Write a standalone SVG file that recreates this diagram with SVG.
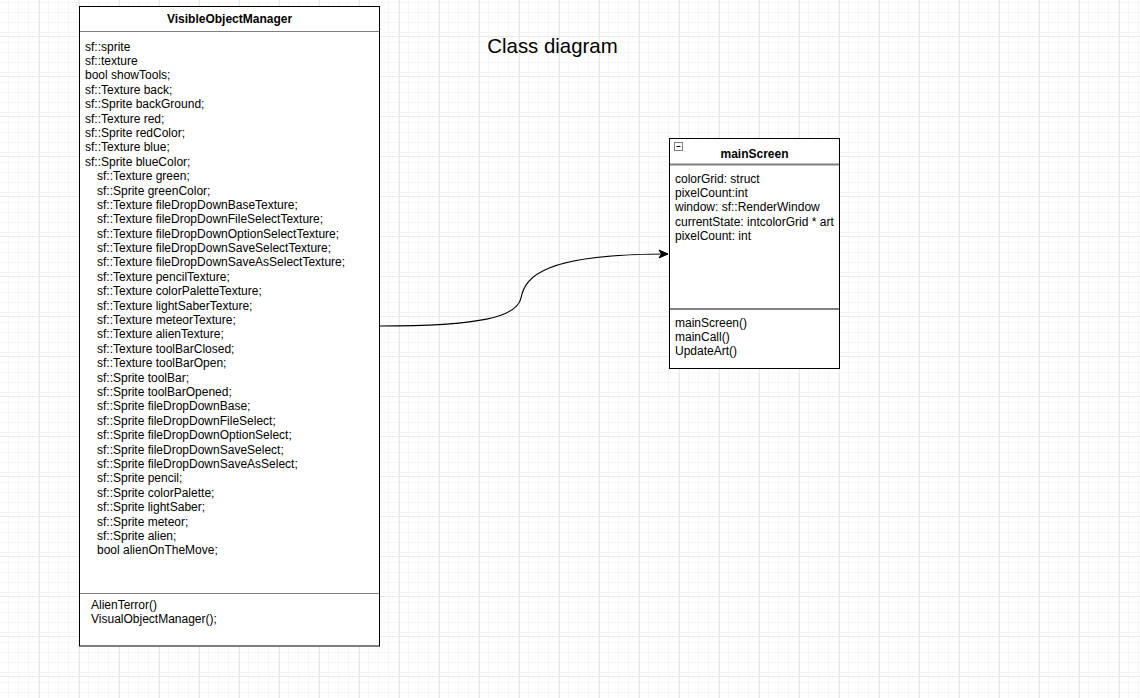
<svg xmlns="http://www.w3.org/2000/svg" width="1140" height="698" viewBox="0 0 1140 698">
<defs>
<pattern id="minor" width="10" height="10" patternUnits="userSpaceOnUse" x="9" y="6">
<path d="M 0.5 0 V 10 M 0 0.5 H 10" fill="none" stroke="#f6f6f6" stroke-width="1"/>
</pattern>
<pattern id="major" width="40" height="40" patternUnits="userSpaceOnUse" x="39" y="36">
<rect width="40" height="40" fill="url(#minor)"/>
<path d="M 0.5 0 V 40 M 0 0.5 H 40" fill="none" stroke="#e8e8e8" stroke-width="1"/>
</pattern>
<marker id="arrow" markerWidth="12" markerHeight="12" refX="10" refY="6" orient="auto" markerUnits="userSpaceOnUse">
<path d="M 1 2 L 10 6 L 1 10 L 3.5 6 Z" fill="#000" stroke="#000" stroke-width="1"/>
</marker>
<style>
.t{font-family:"Liberation Sans",Arial,sans-serif;font-size:12px;fill:#000}
.b{font-weight:bold}
.box{fill:#fff;stroke:#000;stroke-width:1}
.sep{stroke:#808080;stroke-width:1}
.sep2{stroke:#808080;stroke-width:2}
</style>
</defs>
<rect width="1140" height="698" fill="#fff"/>
<rect width="1140" height="698" fill="url(#major)"/>
<text class="t" x="552.5" y="53" text-anchor="middle" style="font-size:20.4px">Class diagram</text>
<g id="connectors">
<path d="M 380 326 C 480 326 517 317 521 298 C 525 276 545 254 668 254" fill="none" stroke="#000" stroke-width="1.2" marker-end="url(#arrow)"/>
</g>
<g id="VisibleObjectManager">
<rect class="box" x="79.5" y="6.5" width="300" height="639.5"/>
<line class="sep" x1="80" y1="31.5" x2="379" y2="31.5"/>
<line class="sep" x1="80" y1="593.5" x2="379" y2="593.5"/>
<text class="t b" x="229.5" y="22.5" text-anchor="middle">VisibleObjectManager</text>
<text class="t" x="85" y="50.5">
<tspan x="85">sf::sprite</tspan>
<tspan x="85" dy="14.4">sf::texture</tspan>
<tspan x="85" dy="14.4">bool showTools;</tspan>
<tspan x="85" dy="14.4">sf::Texture back;</tspan>
<tspan x="85" dy="14.4">sf::Sprite backGround;</tspan>
<tspan x="85" dy="14.4">sf::Texture red;</tspan>
<tspan x="85" dy="14.4">sf::Sprite redColor;</tspan>
<tspan x="85" dy="14.4">sf::Texture blue;</tspan>
<tspan x="85" dy="14.4">sf::Sprite blueColor;</tspan>
<tspan x="97" dy="14.4">sf::Texture green;</tspan>
<tspan x="97" dy="14.4">sf::Sprite greenColor;</tspan>
<tspan x="97" dy="14.4">sf::Texture fileDropDownBaseTexture;</tspan>
<tspan x="97" dy="14.4">sf::Texture fileDropDownFileSelectTexture;</tspan>
<tspan x="97" dy="14.4">sf::Texture fileDropDownOptionSelectTexture;</tspan>
<tspan x="97" dy="14.4">sf::Texture fileDropDownSaveSelectTexture;</tspan>
<tspan x="97" dy="14.4">sf::Texture fileDropDownSaveAsSelectTexture;</tspan>
<tspan x="97" dy="14.4">sf::Texture pencilTexture;</tspan>
<tspan x="97" dy="14.4">sf::Texture colorPaletteTexture;</tspan>
<tspan x="97" dy="14.4">sf::Texture lightSaberTexture;</tspan>
<tspan x="97" dy="14.4">sf::Texture meteorTexture;</tspan>
<tspan x="97" dy="14.4">sf::Texture alienTexture;</tspan>
<tspan x="97" dy="14.4">sf::Texture toolBarClosed;</tspan>
<tspan x="97" dy="14.4">sf::Texture toolBarOpen;</tspan>
<tspan x="97" dy="14.4">sf::Sprite toolBar;</tspan>
<tspan x="97" dy="14.4">sf::Sprite toolBarOpened;</tspan>
<tspan x="97" dy="14.4">sf::Sprite fileDropDownBase;</tspan>
<tspan x="97" dy="14.4">sf::Sprite fileDropDownFileSelect;</tspan>
<tspan x="97" dy="14.4">sf::Sprite fileDropDownOptionSelect;</tspan>
<tspan x="97" dy="14.4">sf::Sprite fileDropDownSaveSelect;</tspan>
<tspan x="97" dy="14.4">sf::Sprite fileDropDownSaveAsSelect;</tspan>
<tspan x="97" dy="14.4">sf::Sprite pencil;</tspan>
<tspan x="97" dy="14.4">sf::Sprite colorPalette;</tspan>
<tspan x="97" dy="14.4">sf::Sprite lightSaber;</tspan>
<tspan x="97" dy="14.4">sf::Sprite meteor;</tspan>
<tspan x="97" dy="14.4">sf::Sprite alien;</tspan>
<tspan x="97" dy="14.4">bool alienOnTheMove;</tspan>
</text>
<text class="t" x="91" y="608.5">
<tspan x="91">AlienTerror()</tspan>
<tspan x="91" dy="14.4">VisualObjectManager();</tspan>
</text>
</g>
<g id="mainScreen">
<rect class="box" x="669.5" y="138.5" width="170" height="230"/>
<line class="sep2" x1="670" y1="164.5" x2="839" y2="164.5"/>
<line class="sep2" x1="670" y1="309" x2="839" y2="309"/>
<rect x="674.5" y="142.5" width="8" height="8" fill="#fff" stroke="#808080" stroke-width="1"/>
<line x1="676.5" y1="146.5" x2="680.5" y2="146.5" stroke="#000" stroke-width="1"/>
<text class="t b" x="754.5" y="157.5" text-anchor="middle">mainScreen</text>
<text class="t" x="675" y="183">
<tspan x="675">colorGrid: struct</tspan>
<tspan x="675" dy="14.2">pixelCount:int</tspan>
<tspan x="675" dy="14.2">window: sf::RenderWindow</tspan>
<tspan x="675" dy="14.2">currentState: intcolorGrid * art</tspan>
<tspan x="675" dy="14.2">pixelCount: int</tspan>
</text>
<text class="t" x="675" y="326.5">
<tspan x="675">mainScreen()</tspan>
<tspan x="675" dy="14.2">mainCall()</tspan>
<tspan x="675" dy="14.2">UpdateArt()</tspan>
</text>
</g>
</svg>
